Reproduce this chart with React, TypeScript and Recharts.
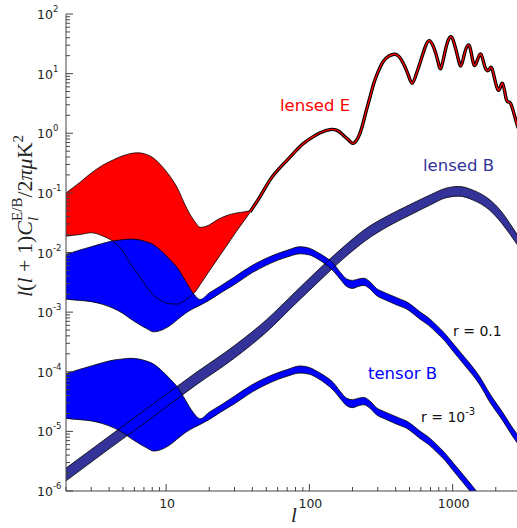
import React from "react";
import { ComposedChart, Area, Line, XAxis, YAxis } from "recharts";

// lensed E, wide cosmic-variance band at low l
const redEll = [2, 2.5, 3, 3.6, 4.3, 5, 5.6, 6.3, 7.3, 8.2, 9.1, 10.7, 12, 13.6, 15, 16, 17.3, 20, 22.6, 26, 31, 35, 38.5];
const redHi = [0.1, 0.15, 0.215, 0.29, 0.36, 0.42, 0.455, 0.47, 0.44, 0.38, 0.3, 0.186, 0.12, 0.062, 0.04, 0.032, 0.0264, 0.029, 0.035, 0.041, 0.046, 0.048, 0.05];
const redLo = [0.0188, 0.02, 0.0214, 0.019, 0.0151, 0.0105, 0.0066, 0.0045, 0.00266, 0.0019, 0.00159, 0.00138, 0.00136, 0.0016, 0.0019, 0.0022, 0.0029, 0.0049, 0.0075, 0.0122, 0.0227, 0.034, 0.047];

// lensed E above l ~ 40
const eEll = [38.5, 45, 53, 61, 70, 80, 91, 105, 119, 143, 160, 172, 190, 202, 218, 233, 248, 265, 282, 301, 326, 359, 396, 425, 452, 490, 522, 555, 591, 640, 686, 740, 790, 828, 880, 930, 971, 1010, 1080, 1140, 1200, 1282, 1350, 1412, 1490, 1573, 1650, 1723, 1800, 1897, 2075, 2228, 2376, 2535, 2800, 3000];
const eVal = [0.048, 0.085, 0.164, 0.25, 0.355, 0.5, 0.676, 0.86, 1.02, 1.16, 1.08, 0.93, 0.75, 0.678, 0.83, 1.27, 2.27, 4.05, 6.96, 10.6, 15.7, 19.7, 21.1, 19, 14.9, 9.5, 6.9, 9.5, 14.9, 27, 35.6, 27, 16, 12.3, 22, 36, 41.6, 36, 20, 13.4, 20, 30.2, 22, 13.9, 17, 21.3, 15, 11.5, 11.8, 11.5, 5.3, 6.9, 3.6, 3.18, 1.47, 1.0];

// lensed B
const lbEll = [2, 4, 8, 16, 30, 50, 80, 120, 170, 250, 350, 500, 700, 900, 1100, 1400, 1800, 2200, 2600, 3000];
const lbHi = [2.42e-6, 8.3e-6, 2.8e-5, 9.5e-5, 2.75e-4, 7.4e-4, 2.2e-3, 5.6e-3, 0.012, 0.0255, 0.041, 0.063, 0.093, 0.12, 0.128, 0.11, 0.078, 0.048, 0.027, 0.016];
const lbLo = [1.48e-6, 5.1e-6, 1.72e-5, 5.9e-5, 1.7e-4, 4.6e-4, 1.38e-3, 3.5e-3, 7.6e-3, 0.0162, 0.027, 0.042, 0.063, 0.083, 0.088, 0.075, 0.052, 0.031, 0.018, 0.011];

// tensor B, r = 0.1
const tEll = [2, 2.5, 3, 3.6, 4.3, 5, 5.6, 6.3, 7.3, 8.2, 9.1, 10.7, 12, 13.6, 15.5, 17.3, 20, 24, 30, 40, 50, 60, 70, 86, 100, 112, 130, 147, 165, 182, 200, 220, 240, 262, 294, 340, 385, 430, 477, 530, 591, 680, 772, 880, 1007, 1200, 1549, 1816, 2200, 2800, 3000];
const t1Hi = [0.0093, 0.011, 0.0125, 0.0142, 0.0157, 0.0164, 0.0168, 0.0165, 0.0151, 0.0134, 0.011, 0.0075, 0.0055, 0.0034, 0.00206, 0.00163, 0.0021, 0.00275, 0.0039, 0.0061, 0.008, 0.0096, 0.0109, 0.0125, 0.0118, 0.0103, 0.0083, 0.00656, 0.0046, 0.0036, 0.0034, 0.0036, 0.0037, 0.0033, 0.0025, 0.0021, 0.00185, 0.00165, 0.00149, 0.00125, 0.00101, 0.0008, 0.000605, 0.00044, 0.000298, 0.00018, 0.000082, 0.000043, 0.000022, 0.0000092, 0.0000075];
const t1Lo = [0.00165, 0.00157, 0.0015, 0.00135, 0.00115, 0.00095, 0.00078, 0.00065, 0.00053, 0.000467, 0.00049, 0.0006, 0.00075, 0.00095, 0.00115, 0.00131, 0.00158, 0.0021, 0.0029, 0.0046, 0.0061, 0.0074, 0.0084, 0.0095, 0.0091, 0.008, 0.0063, 0.0049, 0.0035, 0.0027, 0.0025, 0.0027, 0.0028, 0.0025, 0.0019, 0.0016, 0.0014, 0.00125, 0.00113, 0.00094, 0.00076, 0.0006, 0.00045, 0.00033, 0.00022, 0.000132, 0.00006, 0.000031, 0.000016, 0.0000066, 0.0000054];

// tensor B, r = 1e-3
const t3Hi = [9.3e-5, 1.1e-4, 1.25e-4, 1.42e-4, 1.57e-4, 1.64e-4, 1.68e-4, 1.65e-4, 1.51e-4, 1.34e-4, 1.1e-4, 7.5e-5, 5.5e-5, 3.4e-5, 2.06e-5, 1.63e-5, 2.1e-5, 2.75e-5, 3.9e-5, 6.1e-5, 8.0e-5, 9.6e-5, 1.09e-4, 1.25e-4, 1.18e-4, 1.03e-4, 8.3e-5, 6.56e-5, 4.6e-5, 3.6e-5, 3.4e-5, 3.6e-5, 3.7e-5, 3.3e-5, 2.5e-5, 2.1e-5, 1.85e-5, 1.65e-5, 1.49e-5, 1.25e-5, 1.01e-5, 8.0e-6, 6.05e-6, 4.4e-6, 2.98e-6, 1.8e-6, 8.2e-7, 4.3e-7, 2.2e-7, 9.2e-8, 7.5e-8];
const t3Lo = [1.65e-5, 1.57e-5, 1.5e-5, 1.35e-5, 1.15e-5, 9.5e-6, 7.8e-6, 6.5e-6, 5.3e-6, 4.67e-6, 4.9e-6, 6.0e-6, 7.5e-6, 9.5e-6, 1.15e-5, 1.31e-5, 1.58e-5, 2.1e-5, 2.9e-5, 4.6e-5, 6.1e-5, 7.4e-5, 8.4e-5, 9.5e-5, 9.1e-5, 8.0e-5, 6.3e-5, 4.9e-5, 3.5e-5, 2.7e-5, 2.5e-5, 2.7e-5, 2.8e-5, 2.5e-5, 1.9e-5, 1.6e-5, 1.4e-5, 1.25e-5, 1.13e-5, 9.4e-6, 7.6e-6, 6.0e-6, 4.5e-6, 3.3e-6, 2.2e-6, 1.32e-6, 6.0e-7, 3.1e-7, 1.6e-7, 6.6e-8, 5.4e-8];

const xTicks = [2, 3, 4, 5, 6, 7, 8, 9, 10, 20, 30, 40, 50, 60, 70, 80, 90, 100, 200, 300, 400, 500, 600, 700, 800, 900, 1000, 2000];
const yTicks = [-6, -5, -4, -3, -2, -1, 0, 1]
  .flatMap((e) => [1, 2, 3, 4, 5, 6, 7, 8, 9].map((m) => m * Math.pow(10, e)))
  .concat([100]);

const RED = "#ff0000";
const BLUE = "#0000ff";
const NAVY = "#333399";

function band(ell: number[], lo: number[], hi: number[]) {
  return ell.map((l, i) => ({ l, lo: lo[i], hi: hi[i], range: [lo[i], hi[i]] }));
}

const redData = band(redEll, redLo, redHi);
const lbData = band(lbEll, lbLo, lbHi);
const t1Data = band(tEll, t1Lo, t1Hi);
const t3Data = band(tEll, t3Lo, t3Hi);
const eData = eEll.map((l, i) => ({ l, v: eVal[i] }));

const isDecade = (v: number) => Math.abs(Math.log10(v) - Math.round(Math.log10(v))) < 1e-6;

function BottomTick(props: any) {
  const { x, y, payload } = props;
  const major = isDecade(payload.value);
  return (
    <g>
      <line x1={x} x2={x} y1={y} y2={y - (major ? 7 : 4)} stroke="#444" strokeWidth={1} />
      {major && (
        <text x={x + 1} y={y + 17} textAnchor="middle" fontSize={12.5} fontFamily="DejaVu Sans" fill="#222">
          {payload.value}
        </text>
      )}
    </g>
  );
}

function TopTick(props: any) {
  const { x, y, payload } = props;
  const major = isDecade(payload.value);
  return <line x1={x} x2={x} y1={y} y2={y + (major ? 7 : 4)} stroke="#777" strokeWidth={1} />;
}

function LeftTick(props: any) {
  const { x, y, payload } = props;
  const major = isDecade(payload.value);
  const e = Math.round(Math.log10(payload.value));
  return (
    <g>
      <line x1={x} x2={x + (major ? 7 : 4)} y1={y} y2={y} stroke="#444" strokeWidth={1} />
      {major && (
        <text x={x - 29} y={y + 5} fontSize={12.5} fontFamily="DejaVu Sans" fill="#222">
          10
          <tspan dy={-7} fontSize={8.5}>
            {e < 0 ? "-" + -e : String(e)}
          </tspan>
        </text>
      )}
    </g>
  );
}

function RightTick(props: any) {
  const { x, y, payload } = props;
  const major = isDecade(payload.value);
  return <line x1={x} x2={x - (major ? 7 : 4)} y1={y} y2={y} stroke="#777" strokeWidth={1} />;
}

const edge = { stroke: "#000", strokeWidth: 0.8, dot: false, type: "monotone" as const, isAnimationActive: false };

function Labels() {
  const sans = "DejaVu Sans";
  const serif = "Liberation Serif";
  return (
    <svg width={517} height={528} style={{ position: "absolute", left: 0, top: 0, pointerEvents: "none" }}>
      <text x={280} y={111} fontSize={16.5} fontFamily={sans} fill={RED}>lensed E</text>
      <text x={423} y={171} fontSize={16.5} fontFamily={sans} fill={NAVY}>lensed B</text>
      <text x={368} y={379} fontSize={16.5} fontFamily={sans} fill={BLUE}>tensor B</text>
      <text x={453} y={336} fontSize={14} fontFamily={sans} fill="#111">r = 0.1</text>
      <text x={421} y={422} fontSize={14} fontFamily={sans} fill="#111">
        r = 10<tspan dy={-7} fontSize={10}>-3</tspan>
      </text>
      <text x={294} y={522} fontSize={21} fontFamily={serif} fontStyle="italic" textAnchor="middle" fill="#222">l</text>
      <text transform="translate(32, 216) rotate(-90)" fontSize={22} fontFamily={serif} textAnchor="middle" fill="#222">
        <tspan fontStyle="italic">l</tspan>(<tspan fontStyle="italic">l</tspan> + 1)<tspan fontStyle="italic">C</tspan>
        <tspan dy={6} fontSize={15} fontStyle="italic">l</tspan>
        <tspan dx={-4} dy={-16} fontSize={15}>E/B</tspan>
        <tspan dy={10}>/2</tspan>
        <tspan fontStyle="italic">πμ</tspan>K<tspan dy={-9} fontSize={15}>2</tspan>
      </text>
    </svg>
  );
}

export default function App() {
  return (
    <div style={{ position: "fixed", left: 0, top: 0, width: 517, height: 528, overflow: "hidden", background: "#fff" }}>
      <ComposedChart width={530} height={528} margin={{ top: 14, right: 9, bottom: 7, left: 16 }}>
        <XAxis
          xAxisId="b"
          dataKey="l"
          type="number"
          scale="log"
          domain={[2, 3000]}
          allowDataOverflow
          ticks={xTicks}
          interval={0}
          tickSize={0}
          tickMargin={0}
          tickLine={false}
          tick={<BottomTick />}
          axisLine={{ stroke: "#444", strokeWidth: 1 }}
          height={30}
        />
        <XAxis
          xAxisId="t"
          orientation="top"
          dataKey="l"
          type="number"
          scale="log"
          domain={[2, 3000]}
          allowDataOverflow
          ticks={xTicks}
          interval={0}
          tickSize={0}
          tickMargin={0}
          tickLine={false}
          tick={<TopTick />}
          axisLine={{ stroke: "#999", strokeWidth: 1.6 }}
          height={0}
        />
        <YAxis
          yAxisId="l"
          type="number"
          scale="log"
          domain={[1e-6, 100]}
          allowDataOverflow
          ticks={yTicks}
          interval={0}
          tickSize={0}
          tickMargin={0}
          tickLine={false}
          tick={<LeftTick />}
          axisLine={{ stroke: "#444", strokeWidth: 1 }}
          width={50}
        />
        <YAxis
          yAxisId="r"
          orientation="right"
          type="number"
          scale="log"
          domain={[1e-6, 100]}
          allowDataOverflow
          ticks={yTicks}
          interval={0}
          tickSize={0}
          tickMargin={0}
          tickLine={false}
          tick={<RightTick />}
          axisLine={{ stroke: "#999", strokeWidth: 1.6 }}
          width={0}
        />

        <Area xAxisId="b" yAxisId="l" data={lbData} dataKey="range" type="monotone" fill={NAVY} fillOpacity={1} stroke="none" isAnimationActive={false} />
        <Area xAxisId="b" yAxisId="l" data={redData} dataKey="range" type="monotone" fill={RED} fillOpacity={1} stroke="none" isAnimationActive={false} />
        <Area xAxisId="b" yAxisId="l" data={t1Data} dataKey="range" type="monotone" fill={BLUE} fillOpacity={1} stroke="none" isAnimationActive={false} />
        <Area xAxisId="b" yAxisId="l" data={t3Data} dataKey="range" type="monotone" fill={BLUE} fillOpacity={1} stroke="none" isAnimationActive={false} />

        <Line xAxisId="b" yAxisId="l" data={lbData} dataKey="hi" {...edge} />
        <Line xAxisId="b" yAxisId="l" data={lbData} dataKey="lo" {...edge} />
        <Line xAxisId="b" yAxisId="l" data={redData} dataKey="hi" {...edge} />
        <Line xAxisId="b" yAxisId="l" data={redData} dataKey="lo" {...edge} />
        <Line xAxisId="b" yAxisId="l" data={t1Data} dataKey="hi" {...edge} />
        <Line xAxisId="b" yAxisId="l" data={t1Data} dataKey="lo" {...edge} />
        <Line xAxisId="b" yAxisId="l" data={t3Data} dataKey="hi" {...edge} />
        <Line xAxisId="b" yAxisId="l" data={t3Data} dataKey="lo" {...edge} />

        <Line xAxisId="b" yAxisId="l" data={eData} dataKey="v" type="natural" stroke="#000" strokeWidth={3.4} dot={false} isAnimationActive={false} />
        <Line xAxisId="b" yAxisId="l" data={eData} dataKey="v" type="natural" stroke={RED} strokeWidth={1.3} dot={false} isAnimationActive={false} />
      </ComposedChart>
      <Labels />
    </div>
  );
}
